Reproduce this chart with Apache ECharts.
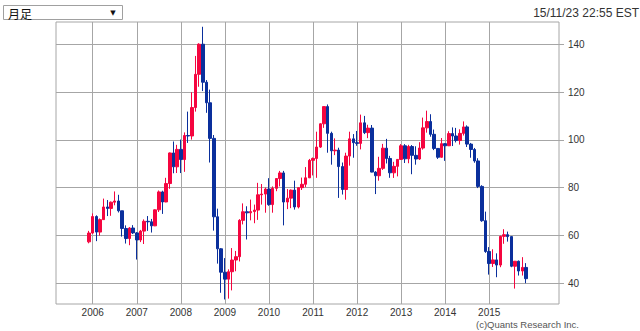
<!DOCTYPE html>
<html>
<head>
<meta charset="utf-8">
<script src="https://cdn.jsdelivr.net/npm/echarts@6/dist/echarts.min.js"></script>
<style>
  html, body { margin: 0; padding: 0; background: #fff; }
  #chart { width: 640px; height: 331px; }
</style>
</head>
<body>
<div id="chart"></div>
<script>
// Monthly candles (月足), Dec 2005 through Nov 2015: open / close / low / high
const firstMonth = '2005-12';

const opens = [
  57.3,
  61.0, 67.9, 61.4, 66.6, 71.9, 71.3, 73.9, 74.4, 70.3, 62.9, 58.7, 63.1,
  61.05, 58.1, 61.8, 65.9, 65.7, 64.0, 70.7, 78.2, 74.0, 81.7, 94.5, 88.7,
  96.0, 91.75, 101.8, 101.6, 113.5, 127.4, 140.0, 124.1, 115.5, 100.6, 67.8, 54.4,
  44.6, 41.7, 44.8, 49.7, 51.1, 66.3, 69.9, 69.45, 69.96, 70.6, 77.0, 77.3,
  79.4, 72.9, 79.7, 83.8, 86.15, 73.97, 75.6, 78.95, 71.9, 79.97, 81.4, 84.1,
  91.4, 92.2, 96.97, 106.7, 113.9, 102.7, 95.4, 95.7, 88.8, 79.2, 93.2, 100.4,
  98.8, 98.5, 107.1, 103.0, 104.9, 86.5, 84.96, 88.06, 96.5, 92.2, 86.2, 88.9,
  91.8, 97.5, 92.05, 97.2, 93.5, 91.97, 96.56, 105.0, 107.65, 102.3, 96.4, 92.7,
  98.4, 97.5, 102.6, 101.6, 99.7, 102.7, 105.4, 98.2, 95.96, 91.16, 80.5, 66.15,
  53.27, 48.24, 49.76, 47.6, 59.6, 60.3, 59.5, 47.1, 49.2, 45.1, 46.6
];
const closes = [
  61.0,
  67.9, 61.4, 66.6, 71.9, 71.3, 73.9, 74.4, 70.3, 62.9, 58.7, 63.1, 61.05,
  58.1, 61.8, 65.9, 65.7, 64.0, 70.7, 78.2, 74.0, 81.7, 94.5, 88.7, 96.0,
  91.75, 101.8, 101.6, 113.5, 127.4, 140.0, 124.1, 115.5, 100.6, 67.8, 54.4, 44.6,
  41.7, 44.8, 49.7, 51.1, 66.3, 69.9, 69.45, 69.96, 70.6, 77.0, 77.3, 79.4,
  72.9, 79.7, 83.8, 86.15, 73.97, 75.6, 78.95, 71.9, 79.97, 81.4, 84.1, 91.4,
  92.2, 96.97, 106.7, 113.9, 102.7, 95.4, 95.7, 88.8, 79.2, 93.2, 100.4, 98.8,
  98.5, 107.1, 103.0, 104.9, 86.5, 84.96, 88.06, 96.5, 92.2, 86.2, 88.9, 91.8,
  97.5, 92.05, 97.2, 93.5, 91.97, 96.56, 105.0, 107.65, 102.3, 96.4, 92.7, 98.4,
  97.5, 102.6, 101.6, 99.7, 102.7, 105.4, 98.2, 95.96, 91.16, 80.5, 66.15, 53.27,
  48.24, 49.76, 47.6, 59.6, 60.3, 59.5, 47.1, 49.2, 45.1, 46.6, 41.9
];
const lows = [
  56.7,
  60.6, 57.6, 59.9, 66.5, 68.1, 68.2, 72.6, 69.6, 59.5, 56.6, 55.9, 60.6,
  49.9, 57.2, 56.4, 61.9, 61.2, 63.9, 69.8, 69.0, 73.9, 79.5, 86.0, 86.1,
  86.1, 86.6, 98.7, 100.1, 111.8, 122.2, 120.4, 111.3, 90.5, 62.0, 48.2, 36.0,
  33.2, 33.55, 37.0, 45.0, 49.1, 64.6, 58.3, 66.3, 65.1, 66.5, 72.9, 69.5,
  72.4, 69.5, 78.5, 80.5, 64.2, 71.0, 71.4, 70.8, 71.3, 79.0, 80.2, 84.0,
  85.1, 84.1, 96.6, 105.0, 94.6, 89.6, 93.6, 75.7, 77.1, 74.95, 89.2, 92.5,
  97.5, 96.0, 102.4, 100.7, 86.4, 77.3, 82.9, 87.4, 90.1, 84.1, 84.05, 84.7,
  91.7, 90.3, 90.2, 85.6, 89.6, 91.6, 95.9, 103.0, 101.3, 95.7, 92.0, 92.5,
  91.2, 97.4, 97.4, 98.9, 98.0, 101.8, 97.0, 92.5, 90.4, 79.8, 65.7, 52.7,
  43.6, 46.8, 42.5, 46.7, 56.5, 57.4, 46.7, 37.75, 43.2, 43.2, 40.0
];
const highs = [
  61.9,
  69.2, 68.4, 67.1, 75.4, 74.8, 74.2, 78.4, 77.0, 70.3, 64.2, 63.5, 64.3,
  61.4, 62.3, 66.7, 68.1, 66.9, 70.9, 78.8, 78.7, 84.1, 94.7, 99.3, 97.9,
  100.1, 103.1, 111.8, 119.9, 135.1, 140.4, 147.3, 125.0, 121.0, 102.0, 71.2, 54.7,
  50.5, 45.8, 54.7, 53.5, 66.8, 73.4, 72.2, 75.0, 72.9, 82.0, 81.5, 80.0,
  83.95, 80.5, 83.9, 87.0, 87.0, 79.4, 79.2, 82.9, 80.0, 84.2, 88.6, 92.0,
  92.6, 103.4, 106.9, 113.9, 114.8, 103.4, 100.6, 96.7, 90.5, 94.6, 103.4, 102.4,
  103.7, 110.55, 110.0, 106.3, 106.2, 86.9, 92.9, 98.3, 100.4, 93.3, 90.8, 91.9,
  98.2, 98.2, 97.9, 97.8, 97.3, 99.0, 109.3, 112.2, 110.7, 104.3, 96.5, 100.75,
  98.6, 103.6, 105.2, 104.99, 104.4, 107.7, 106.05, 98.7, 96.6, 92.3, 81.0, 69.95,
  55.1, 54.2, 52.5, 59.9, 62.6, 61.6, 59.7, 49.3, 49.5, 50.9, 48.4
];

// Year labels shown under the January gridlines
const yearLabels = ['2006', '2007', '2008', '2009', '2010', '2011', '2012', '2013', '2014', '2015'];
// Price ticks on the right-hand axis
const priceTicks = [40, 60, 80, 100, 120, 140];

// Month slots along the x axis (a few empty months of margin on both sides)
const axisStart = { year: 2005, month: 3 };
const axisSlots = 138;
const months = [];
for (let i = 0; i < axisSlots; i++) {
  const t = axisStart.year * 12 + (axisStart.month - 1) + i;
  const y = Math.floor(t / 12);
  const m = (t % 12) + 1;
  months.push(y + '-' + (m < 10 ? '0' + m : '' + m));
}

const offset = months.indexOf(firstMonth);
const candles = months.map(function (_, i) {
  const k = i - offset;
  if (k < 0 || k >= opens.length) return '-';
  return [opens[k], closes[k], lows[k], highs[k]];
});

function isYearStart(index, value) {
  return value.slice(5) === '01' && yearLabels.indexOf(value.slice(0, 4)) >= 0;
}

const UP = '#f5053f';
const DOWN = '#0a2f9c';
const GRID = '#a6a6a6';

const chart = echarts.init(document.getElementById('chart'), null, { renderer: 'svg' });
chart.setOption({
  animation: false,
  backgroundColor: '#fff',
  textStyle: { fontFamily: '"Liberation Sans", Arial, sans-serif' },
  grid: {
    left: 56, top: 22, right: 81, bottom: 27,
    show: true, borderColor: GRID, borderWidth: 1, backgroundColor: 'transparent'
  },
  xAxis: {
    type: 'category',
    data: months,
    boundaryGap: false,
    axisLine: { show: false },
    axisTick: { show: false },
    axisLabel: {
      interval: isYearStart,
      formatter: function (v) { return v.slice(0, 4); },
      color: '#333', fontSize: 10, margin: 3
    },
    splitLine: { show: true, interval: isYearStart, lineStyle: { color: GRID, width: 1 } }
  },
  yAxis: {
    type: 'value',
    position: 'right',
    min: 31.3,
    max: 149.3,
    axisLine: { show: false },
    axisTick: { show: true, length: 5, customValues: priceTicks, lineStyle: { color: GRID } },
    axisLabel: { customValues: priceTicks, color: '#333', fontSize: 10, margin: 9 },
    splitLine: { show: true, lineStyle: { color: GRID, width: 1 } }
  },
  series: [{
    type: 'candlestick',
    data: candles,
    barWidth: 3,
    itemStyle: {
      color: UP, color0: DOWN,
      borderColor: UP, borderColor0: DOWN, borderColorDoji: UP,
      borderWidth: 1
    },
    emphasis: { disabled: true }
  }],
  graphic: [
    { type: 'rect', shape: { x: 3.5, y: 5.5, width: 119, height: 14 },
      style: { fill: '#fff', stroke: '#a0a0a0', lineWidth: 1 } },
    { type: 'text', x: 8, y: 13,
      style: { text: '月足', font: '12px "Noto Sans CJK JP"', fill: '#111', verticalAlign: 'middle' } },
    { type: 'text', x: 113, y: 13,
      style: { text: '▼', font: '7px "DejaVu Sans"', fill: '#111', align: 'center', verticalAlign: 'middle' } },
    { type: 'text', x: 639, y: 13,
      style: { text: '15/11/23 22:55 EST', font: '12px "Liberation Sans"', fill: '#333', align: 'right', verticalAlign: 'middle' } },
    { type: 'text', x: 476, y: 324,
      style: { text: '(c)Quants Research Inc.', font: '9.5px "Liberation Sans"', fill: '#555', verticalAlign: 'middle' } }
  ]
});
</script>
</body>
</html>
